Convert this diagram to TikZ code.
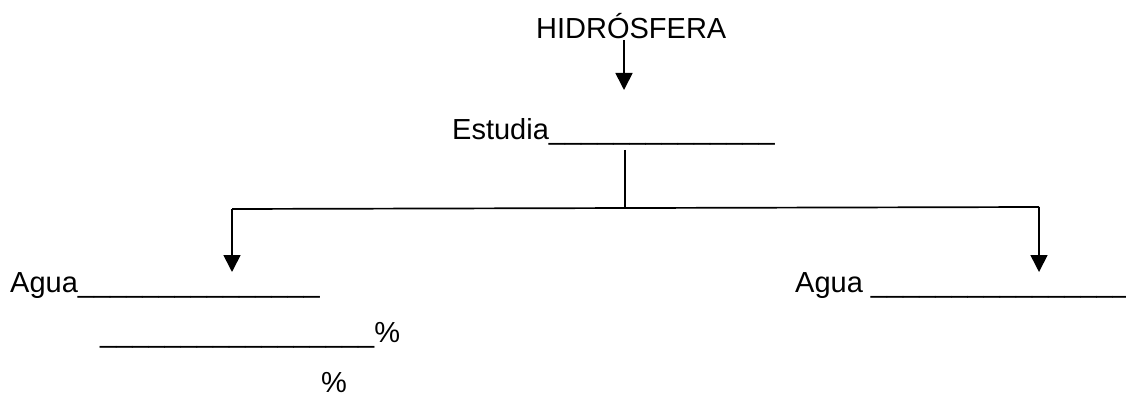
\documentclass[tikz,border=0pt]{standalone}
\usepackage{fontspec}
\setmainfont{Liberation Sans}
\usetikzlibrary{arrows.meta}
\begin{document}
\begin{tikzpicture}[x=1pt,y=1pt,
  lbl/.style={anchor=base west,inner sep=0pt,font=\fontsize{29}{34}\selectfont},
  conn/.style={line width=1.7pt},
  arr/.style={conn,-{Triangle[width=17pt,length=17pt]}}]
\useasboundingbox (0,0) rectangle (1126,394);
\node[lbl] (hid) at (536,355) {HIDRÓSFERA};
\node[lbl] (est) at (452,254) {Estudia\_\_\_\_\_\_\_\_\_\_\_\_\_\_};
\node[lbl] (aguaL) at (10,102) {Agua\_\_\_\_\_\_\_\_\_\_\_\_\_\_\_};
\node[lbl] (pct1) at (100,52) {\_\_\_\_\_\_\_\_\_\_\_\_\_\_\_\_\_\%};
\node[lbl] (pct2) at (321,2) {\%};
\node[lbl] (aguaR) at (795,102) {Agua \_\_\_\_\_\_\_\_\_\_\_\_\_\_\_\_};
\coordinate (hidFoot) at (624,354);
\coordinate (hidTip) at (624,304);
\coordinate (estFoot) at (625,244);
\coordinate (mid) at (625,185);
\coordinate (jL) at (232,185);
\coordinate (jR) at (1039,187);
\coordinate (tipL) at (232,122);
\coordinate (tipR) at (1039,122);
\draw[arr] (hidFoot) -- (hidTip);
\draw[conn] (estFoot) -- (mid);
\draw[conn] (jL) -- (jR);
\draw[arr] (jL) -- (tipL);
\draw[arr] (jR) -- (tipR);
\end{tikzpicture}
\end{document}
